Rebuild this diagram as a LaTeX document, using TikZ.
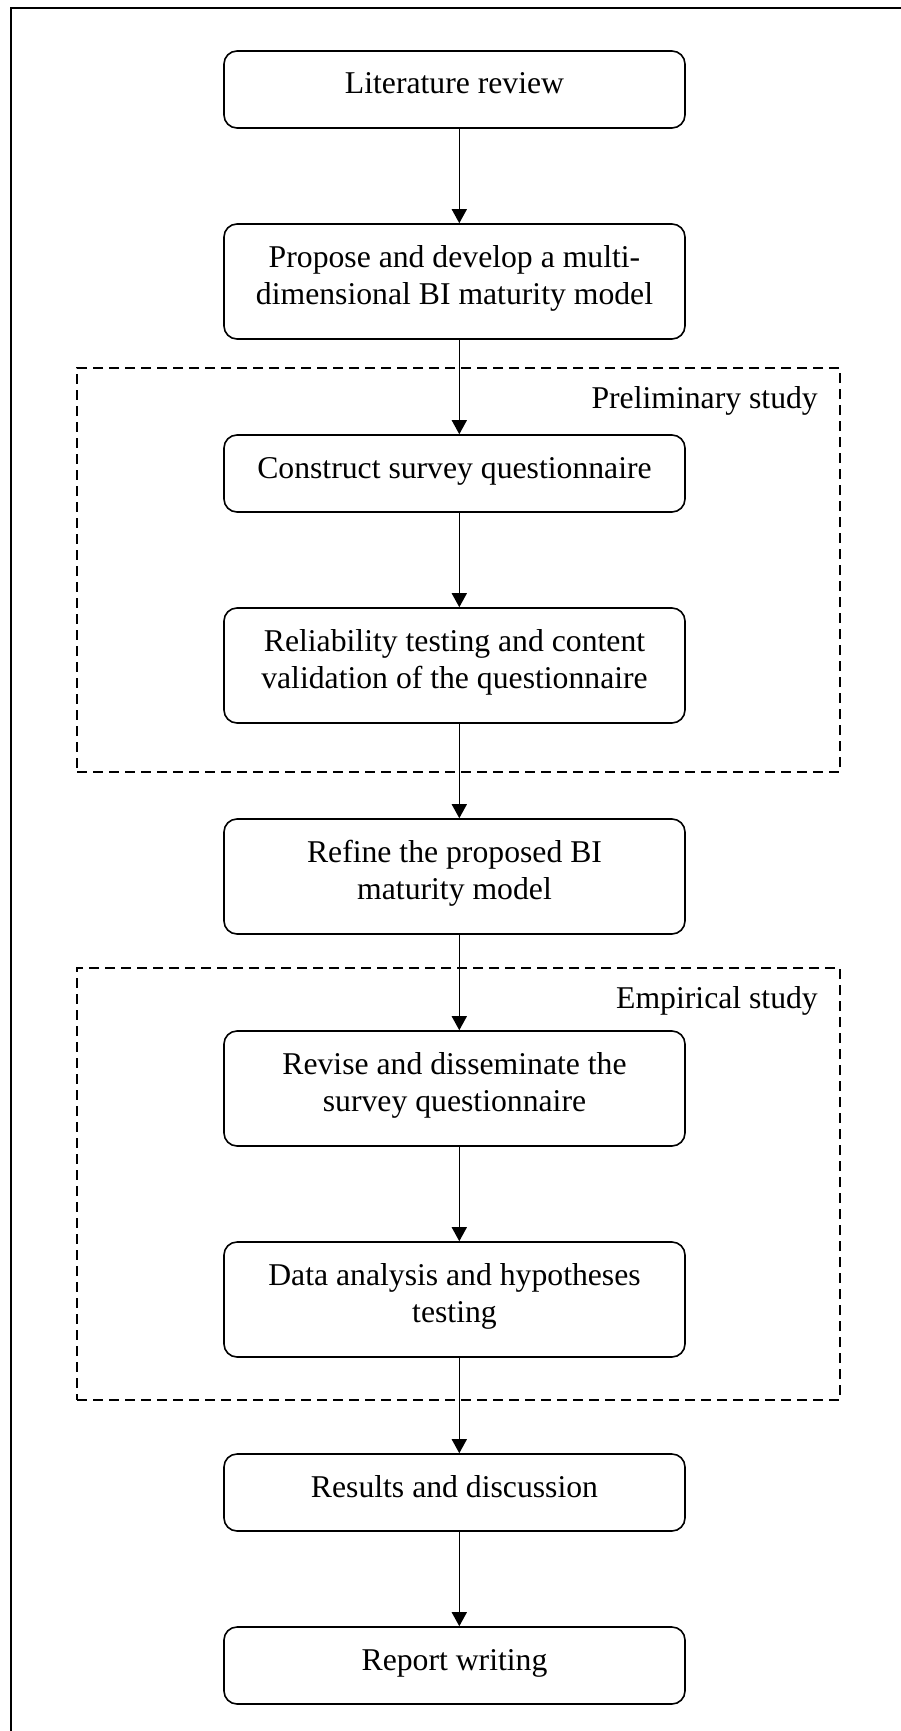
\documentclass[tikz,border=0pt]{standalone}
\usepackage{fontspec}
\setmainfont{Liberation Serif}
\usetikzlibrary{arrows.meta}
\begin{document}
\begin{tikzpicture}[x=1pt,y=-1pt,
  stepbox/.style={draw, line width=1.6pt, rounded corners=13pt, minimum width=461pt,
    align=center, inner sep=0pt, font=\fontsize{31.7}{37}\selectfont},
  shortbox/.style={stepbox, minimum height=77pt, text height=17pt, text depth=8pt},
  tallbox/.style={stepbox, minimum height=115pt, text height=54pt, text depth=8pt},
  phase/.style={draw, dash pattern=on 10pt off 6pt, line width=1.4pt, inner sep=0pt},
  phaselabel/.style={anchor=base east, inner sep=0pt, font=\fontsize{31.7}{37}\selectfont},
  flow/.style={-{Triangle[length=14pt,width=15pt]}, line width=1.4pt},
]
% page and frame
\fill[white] (0,0) rectangle (901,1731);
\useasboundingbox (0,0) rectangle (901,1731);
\draw[line width=2pt] (11,1740) -- (11,8) -- (910,8);

% study phases
\node[phase, minimum width=763pt, minimum height=404pt] (prelim) at (458.5,570) {};
\node[phase, minimum width=763pt, minimum height=432pt] (empir) at (458.5,1184) {};
\node[phaselabel] (prelimlabel) at (818,408) {Preliminary study};
\node[phaselabel] (empirlabel) at (818,1008) {Empirical study};

% process steps
\node[shortbox] (b1) at (454.5,89.5) {Literature review};
\node[tallbox] (b2) at (454.5,281.5) {Propose and develop a multi-\\dimensional BI maturity model};
\node[shortbox] (b3) at (454.5,473.5) {Construct survey questionnaire};
\node[tallbox] (b4) at (454.5,665.5) {Reliability testing and content\\validation of the questionnaire};
\node[tallbox] (b5) at (454.5,876.5) {Refine the proposed BI\\maturity model};
\node[tallbox] (b6) at (454.5,1088.5) {Revise and disseminate the\\survey questionnaire};
\node[tallbox] (b7) at (454.5,1299.5) {Data analysis and hypotheses\\testing};
\node[shortbox] (b8) at (454.5,1492.5) {Results and discussion};
\node[shortbox] (b9) at (454.5,1665.5) {Report writing};

% connectors
\foreach \a/\b in {b1/b2,b2/b3,b3/b4,b4/b5,b5/b6,b6/b7,b7/b8,b8/b9}
  \draw[flow] ([xshift=4.8pt]\a.south) -- ([xshift=4.8pt]\b.north);
\end{tikzpicture}
\end{document}
